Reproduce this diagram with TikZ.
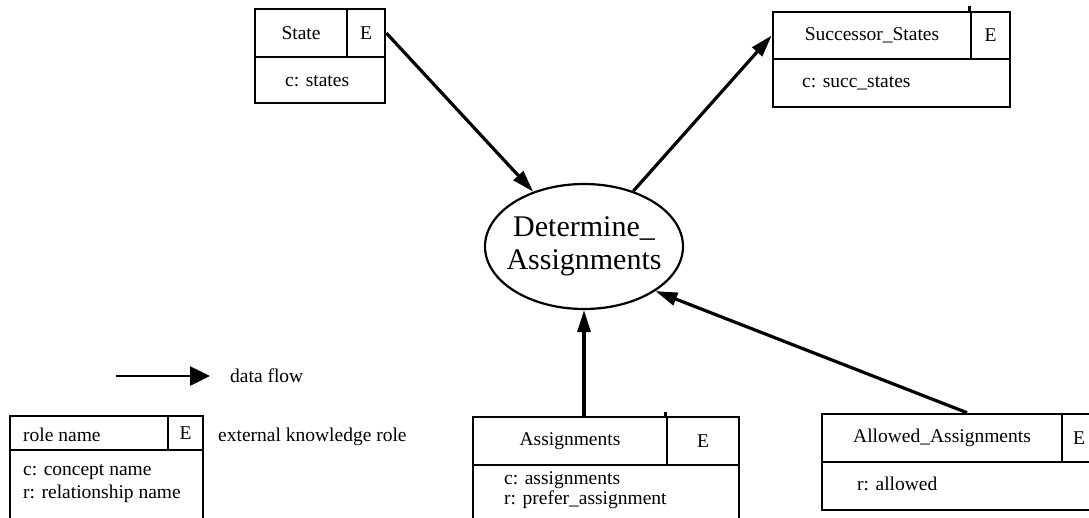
\documentclass[tikz,border=0pt]{standalone}
\usepackage{fontspec}
\setmainfont{Liberation Serif}
\usetikzlibrary{arrows.meta,shapes.geometric}

\begin{document}
\begin{tikzpicture}[x=1pt, y=-1pt,
  every node/.style={font=\fontsize{19.5}{23}\selectfont, inner sep=0pt},
  rolebox/.style={draw, rectangle, line width=2.6pt},
  txt/.style={anchor=west, align=left},
  flow/.style={line width=3.2pt, -{Triangle[length=22pt,width=13pt]}}]
\useasboundingbox (0,0) rectangle (1089,517);
\node[rolebox, minimum width=92pt, minimum height=48pt] (state) at (301,33) {State};
\node[rolebox, minimum width=38pt, minimum height=48pt] (stateE) at (366,33) {E};
\node[rolebox, minimum width=130pt, minimum height=46pt] (stateB) at (320,80) {};
\node[txt] (stateC) at (285,81) {c: states};
\node[rolebox, minimum width=198pt, minimum height=47pt] (succ) at (872,35.5) {Successor\_States};
\node[rolebox, minimum width=39pt, minimum height=47pt] (succE) at (990.5,35.5) {E};
\node[rolebox, minimum width=237pt, minimum height=48pt] (succB) at (891.5,83) {};
\node[txt] (succC) at (802,83) {c: succ\_states};
\node[rolebox, minimum width=194pt, minimum height=48pt] (assign) at (570,441) {Assignments};
\node[rolebox, minimum width=72pt, minimum height=48pt] (assignE) at (703,441) {E};
\node[rolebox, minimum width=266pt, minimum height=70pt] (assignB) at (606,500) {};
\node[txt, font=\fontsize{19.5}{20}\selectfont] (assignC) at (504,490) {c: assignments\\r: prefer\_assignment};
\node[rolebox, minimum width=240pt, minimum height=48pt] (allow) at (942,438) {Allowed\_Assignments};
\node[rolebox, minimum width=34pt, minimum height=48pt] (allowE) at (1079,438) {E};
\node[rolebox, minimum width=274pt, minimum height=48pt] (allowB) at (959,486) {};
\node[txt] (allowC) at (857,484) {r: allowed};
\node[rolebox, minimum width=158pt, minimum height=34pt] (legend) at (89,433) {};
\node[rolebox, minimum width=35pt, minimum height=34pt] (legendE) at (185.5,433) {E};
\node[rolebox, minimum width=193pt, minimum height=85pt] (legendB) at (106.5,492.5) {};
\node[txt] (legendN) at (23,435) {role name};
\node[txt] (legendC) at (23,483.5) {c: concept name\\r: relationship name};
\node[txt] (legendT) at (218,437) {external knowledge role};
\node[draw, ellipse, line width=2.2pt, minimum width=198pt, minimum height=125pt] (task) at (584,246.5) {};
\node[font=\fontsize{30}{33}\selectfont, align=center] (taskT) at (task) {Determine\_\\Assignments};
\coordinate (flowS) at (116,376);
\coordinate (flowE) at (210,376);
\node[txt] (flowT) at (230,376) {data flow};
\draw[line width=2.6pt, -{Triangle[length=20pt,width=19pt]}] (flowS) -- (flowE);
\draw[line width=2.6pt] (succE.north west) -- ++(0,-5);
\draw[line width=2.6pt] (assignE.north west) -- ++(0,-4);
\draw[flow] (stateE.east) -- (task);
\draw[flow] (task) -- (succ.west);
\draw[flow] (task.south |- assign.north) -- (task.south);
\draw[flow] ([xshift=25pt]allow.north) -- (task.-32);
\end{tikzpicture}
\end{document}
